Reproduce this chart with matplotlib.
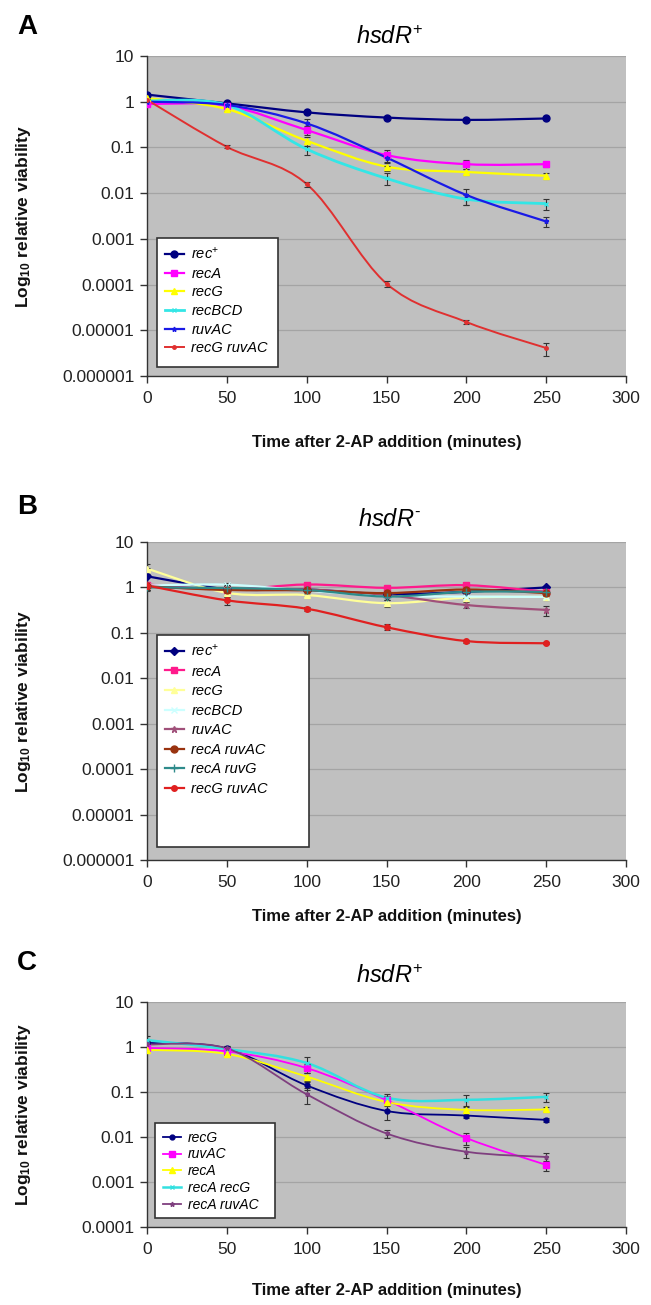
import numpy as np
import matplotlib
matplotlib.use('Agg')
import matplotlib.pyplot as plt
from matplotlib.path import Path
from matplotlib.patches import PathPatch, Rectangle
from matplotlib.lines import Line2D

plt.rcParams['font.family'] = ['Liberation Sans', 'DejaVu Sans']
plt.rcParams['mathtext.fontset'] = 'custom'
plt.rcParams['mathtext.rm'] = 'Liberation Sans'
plt.rcParams['mathtext.it'] = 'Liberation Sans:italic'
plt.rcParams['mathtext.bf'] = 'Liberation Sans:bold'

# time points (minutes)
times = [0, 50, 100, 150, 200, 250]

# Panel A, hsdR+
a_labels = [r'$\mathit{rec}^{+}$', 'recA', 'recG', 'recBCD', 'ruvAC', 'recG ruvAC']
a_rec = [1.43, 0.92, 0.585, 0.45, 0.40, 0.43]
a_recA = [0.89, 0.82, 0.24, 0.068, 0.043, 0.043]
a_recG = [1.19, 0.69, 0.14, 0.038, 0.029, 0.024]
a_recBCD = [1.05, 0.85, 0.092, 0.021, 0.0074, 0.0059]
a_ruvAC = [1.0, 0.85, 0.335, 0.06, 0.0091, 0.0024]
a_recGruvAC = [1.1, 0.103, 0.0158, 0.000105, 0.0000152, 0.0000041]
a_rec_err = [0.1, 0.06, 0.05, 0.04, 0.04, 0.04]
a_recA_err = [0.05, 0.05, 0.05, 0.02, 0.01, 0.006]
a_recG_err = [0.05, 0.05, 0.03, 0.008, 0.004, 0.004]
a_recBCD_err = [0.05, 0.05, 0.025, 0.006, 0.0018, 0.0016]
a_ruvAC_err = [0.05, 0.05, 0.08, 0.02, 0.0035, 0.0006]
a_recGruvAC_err = [0.05, 0.008, 0.002, 0.000015, 0.0000018, 0.0000013]

# Panel B, hsdR-
b_labels = [r'$\mathit{rec}^{+}$', 'recA', 'recG', 'recBCD', 'ruvAC',
            'recA ruvAC', 'recA ruvG', 'recG ruvAC']
b_rec = [1.76, 0.92, 0.9, 0.71, 0.8, 1.0]
b_recA = [1.16, 0.9, 1.16, 0.98, 1.12, 0.8]
b_recG = [2.6, 0.76, 0.68, 0.45, 0.6, 0.62]
b_recBCD = [1.1, 1.15, 0.85, 0.65, 0.63, 0.62]
b_ruvAC = [1.05, 0.9, 0.9, 0.68, 0.41, 0.32]
b_recAruvAC = [1.05, 0.88, 0.86, 0.75, 0.9, 0.75]
b_recAruvG = [1.0, 0.97, 0.88, 0.63, 0.8, 0.8]
b_recGruvAC = [1.1, 0.52, 0.34, 0.133, 0.066, 0.059]
b_rec_err = [0.9, 0.15, 0.1, 0.1, 0.1, 0.1]
b_recA_err = [0.1, 0.1, 0.12, 0.1, 0.1, 0.08]
b_recG_err = [0.6, 0.1, 0.1, 0.08, 0.1, 0.1]
b_recBCD_err = [0.1, 0.1, 0.1, 0.1, 0.1, 0.1]
b_ruvAC_err = [0.2, 0.1, 0.1, 0.1, 0.06, 0.08]
b_recAruvAC_err = [0.15, 0.25, 0.15, 0.1, 0.3, 0.1]
b_recAruvG_err = [0.1, 0.1, 0.1, 0.1, 0.1, 0.1]
b_recGruvAC_err = [0.1, 0.1, 0.03, 0.02, 0.005, 0.003]

# Panel C, hsdR+
c_labels = ['recG', 'ruvAC', 'recA', 'recA recG', 'recA ruvAC']
c_recG = [1.24, 0.93, 0.14, 0.038, 0.030, 0.024]
c_ruvAC = [0.95, 0.80, 0.34, 0.066, 0.0095, 0.0024]
c_recA = [0.86, 0.70, 0.22, 0.06, 0.04, 0.041]
c_recArecG = [1.42, 0.9, 0.44, 0.075, 0.067, 0.078]
c_recAruvAC = [1.14, 0.93, 0.089, 0.012, 0.0047, 0.0036]
c_recG_err = [0.1, 0.1, 0.03, 0.014, 0.004, 0.002]
c_ruvAC_err = [0.1, 0.1, 0.08, 0.015, 0.003, 0.0006]
c_recA_err = [0.05, 0.05, 0.04, 0.01, 0.006, 0.005]
c_recArecG_err = [0.3, 0.1, 0.15, 0.015, 0.017, 0.017]
c_recAruvAC_err = [0.1, 0.1, 0.035, 0.0025, 0.0013, 0.0008]

W, H = 651, 1305
fig = plt.figure(figsize=(W / 100, H / 100), dpi=100)

AX_L, AX_R = 147, 626


def smooth_path(x, y):
    # excel style smoothed line, built in (x, log y) space
    x = np.asarray(x, float)
    ly = np.log10(y)
    n = len(x)
    verts = [(x[0], ly[0])]
    codes = [Path.MOVETO]
    for i in range(n - 1):
        p0 = np.array([x[max(i - 1, 0)], ly[max(i - 1, 0)]])
        p1 = np.array([x[i], ly[i]])
        p2 = np.array([x[i + 1], ly[i + 1]])
        p3 = np.array([x[min(i + 2, n - 1)], ly[min(i + 2, n - 1)]])
        c1 = p1 + (p2 - p0) / 6
        c2 = p2 - (p3 - p1) / 6
        verts += [tuple(c1), tuple(c2), tuple(p2)]
        codes += [Path.CURVE4] * 3
    verts = [(vx, 10 ** vy) for vx, vy in verts]
    return Path(verts, codes)


def make_axes(top, bottom, ymin):
    ax = fig.add_axes([AX_L / W, 1 - bottom / H, (AX_R - AX_L) / W, (bottom - top) / H])
    ax.set_facecolor('#c0c0c0')
    ax.set_yscale('log')
    ax.set_xlim(0, 300)
    ax.set_ylim(ymin, 10)
    decades = np.arange(int(np.log10(ymin)), 2)
    ticks = [10.0 ** d for d in decades]
    ax.set_yticks(ticks)
    ax.set_yticklabels([('%.6f' % t).rstrip('0').rstrip('.') if t < 1 else str(int(t)) for t in ticks])
    ax.yaxis.set_minor_locator(matplotlib.ticker.NullLocator())
    ax.set_xticks(range(0, 301, 50))
    ax.tick_params(axis='both', direction='out', length=5, width=1, color='#333333',
                   labelsize=12.5, labelcolor='#222222')
    ax.tick_params(axis='y', pad=4)
    ax.tick_params(axis='x', pad=6)
    for s in ['top', 'right']:
        ax.spines[s].set_visible(False)
    for s in ['left', 'bottom']:
        ax.spines[s].set_color('#333333')
        ax.spines[s].set_linewidth(1)
    ax.grid(axis='y', which='major', color='#a4a4a4', lw=0.9)
    ax.set_axisbelow(True)
    return ax


def draw_series(ax, y, err, color, marker, ms, lw=1.6):
    ax.add_patch(PathPatch(smooth_path(times, y), fill=False, edgecolor=color, lw=lw, zorder=3))
    ax.errorbar(times, y, yerr=err, fmt='none', ecolor='#333333', elinewidth=0.8,
                capsize=2, capthick=0.8, zorder=4)
    ax.plot(times, y, ls='none', marker=marker, ms=ms, color=color, mec=color, zorder=5)
    return Line2D([], [], color=color, lw=lw, marker=marker, ms=ms, mec=color)


def legend_box(ax, handles, labels, box, top_px, bottom_px, fs, spacing):
    x0, x1, y0, y1 = box
    h = bottom_px - top_px
    ax.add_patch(Rectangle(((x0 - AX_L) / (AX_R - AX_L), (bottom_px - y1) / h),
                           (x1 - x0) / (AX_R - AX_L), (y1 - y0) / h,
                           transform=ax.transAxes, facecolor='white', edgecolor='#333333',
                           lw=1.2, zorder=6))
    leg = ax.legend(handles, labels, loc='upper left',
                    bbox_to_anchor=((x0 - AX_L) / (AX_R - AX_L), (bottom_px - y0) / h),
                    frameon=False, fontsize=fs, labelspacing=spacing, handlelength=1.3,
                    handletextpad=0.5, borderpad=0.35, borderaxespad=0.2,
                    prop={'style': 'italic', 'size': fs})
    leg.set_zorder(7)


def decorate(ax, top, bottom, title, letter, title_y, letter_y, xlabel_y):
    mid = 1 - (top + bottom) / 2 / H
    fig.text(390 / W, 1 - title_y / H, title, ha='center', va='center', fontsize=17)
    fig.text(27 / W, 1 - letter_y / H, letter, ha='center', va='center', fontsize=20,
             fontweight='bold')
    fig.text(387 / W, 1 - xlabel_y / H, 'Time after 2-AP addition (minutes)', ha='center',
             va='center', fontsize=12, fontweight='bold', color='#111111')
    fig.text(24 / W, mid, r'Log$_{\mathbf{10}}$ relative viability', rotation=90,
             ha='center', va='center', fontsize=12.5, fontweight='bold', color='#111111')


# ---- Panel A
axA = make_axes(56, 376, 1e-6)
hA = [draw_series(axA, a_rec, a_rec_err, '#000080', 'o', 5),
      draw_series(axA, a_recA, a_recA_err, '#ff00ff', 's', 5),
      draw_series(axA, a_recG, a_recG_err, '#ffff00', '^', 5),
      draw_series(axA, a_recBCD, a_recBCD_err, '#33e6e6', 'x', 3.5, lw=2),
      draw_series(axA, a_ruvAC, a_ruvAC_err, '#1a1ae6', '*', 3.5),
      draw_series(axA, a_recGruvAC, a_recGruvAC_err, '#e03030', 'o', 2.5, lw=1.4)]
legend_box(axA, hA, a_labels, (157, 278, 238, 367), 56, 376, 10.5, 0.32)
decorate(axA, 56, 376, r'$\mathit{hsdR}^{+}$', 'A', 38, 27, 443)

# ---- Panel B
axB = make_axes(542, 860, 1e-6)
hB = [draw_series(axB, b_rec, b_rec_err, '#000080', 'D', 4.5),
      draw_series(axB, b_recA, b_recA_err, '#ff1a8c', 's', 5),
      draw_series(axB, b_recG, b_recG_err, '#ffff99', '^', 4.5),
      draw_series(axB, b_recBCD, b_recBCD_err, '#ccffff', 'x', 4),
      draw_series(axB, b_ruvAC, b_ruvAC_err, '#a0507a', '*', 5),
      draw_series(axB, b_recAruvAC, b_recAruvAC_err, '#993310', 'o', 5),
      draw_series(axB, b_recAruvG, b_recAruvG_err, '#2e8b8b', '+', 6),
      draw_series(axB, b_recGruvAC, b_recGruvAC_err, '#e02020', 'o', 4)]
legend_box(axB, hB, b_labels, (157, 309, 635, 847), 542, 860, 10.5, 0.38)
decorate(axB, 542, 860, r'$\mathit{hsdR}^{\text{-}}$', 'B', 520, 507, 917)

# ---- Panel C
axC = make_axes(1002, 1227, 1e-4)
hC = [draw_series(axC, c_recG, c_recG_err, '#000080', 'o', 3.5, lw=1.3),
      draw_series(axC, c_ruvAC, c_ruvAC_err, '#ff00ff', 's', 4, lw=1.3),
      draw_series(axC, c_recA, c_recA_err, '#ffff00', '^', 4, lw=1.3),
      draw_series(axC, c_recArecG, c_recArecG_err, '#33e0e0', 'x', 3.5, lw=1.8),
      draw_series(axC, c_recAruvAC, c_recAruvAC_err, '#7f3f7f', '*', 3.5, lw=1.3)]
legend_box(axC, hC, c_labels, (155, 275, 1123, 1218), 1002, 1227, 10, 0.2)
decorate(axC, 1002, 1227, r'$\mathit{hsdR}^{+}$', 'C', 977, 963, 1290)

fig.savefig('out.png', dpi=100)
